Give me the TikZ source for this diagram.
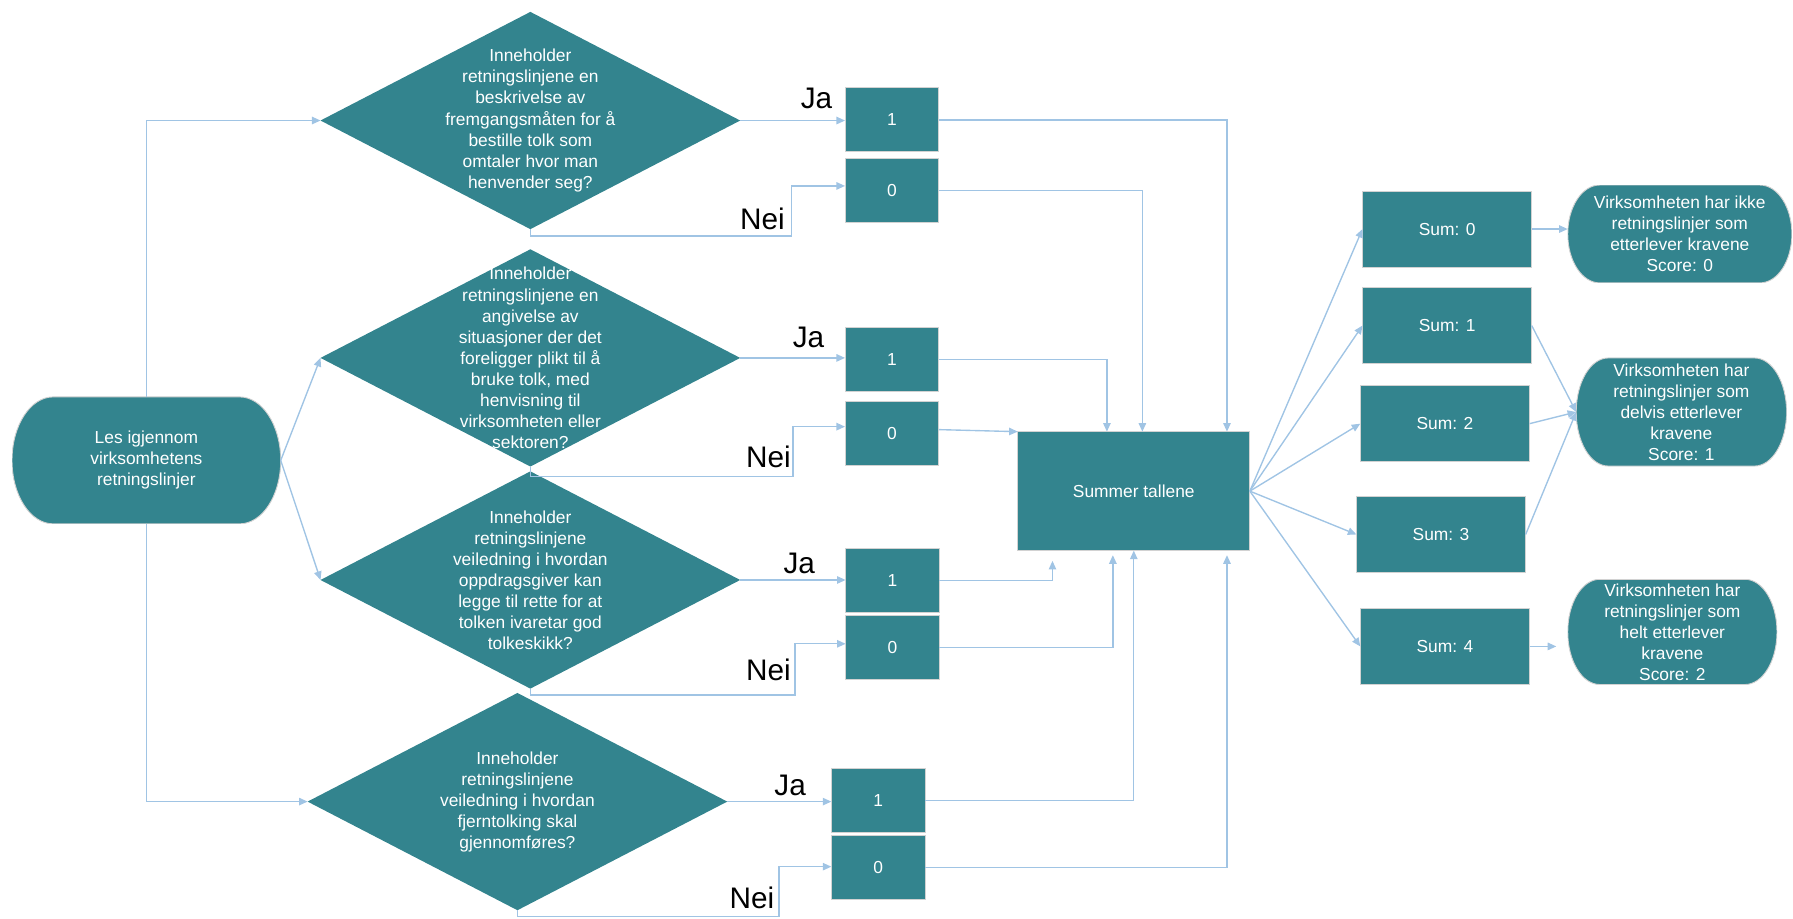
\documentclass[tikz,border=0pt]{standalone}
\usepackage{fontspec}
\setmainfont{Liberation Sans}
\usepackage{tikz}
\usetikzlibrary{
    arrows.meta,
    shapes.geometric,
    positioning,
    calc
}
\definecolor{tealbox}{RGB}{51,132,142}
\definecolor{linkblue}{RGB}{160,196,228}
\newcommand{\boxfont}{\fontsize{15.2}{18.4}\selectfont}
\newcommand{\pbb}{path picture bounding box}
\tikzstyle{decision} = [
    diamond,
    fill=tealbox,
    inner sep=0pt,
    outer sep=0pt,
    minimum width=367pt,
    minimum height=190pt
]
\tikzstyle{qtext} = [
    align=center,
    text=white,
    font=\boxfont,
    inner sep=0pt
]
\tikzstyle{valbox} = [
    rectangle,
    draw=gray!35,
    line width=0.8pt,
    fill=tealbox,
    text=white,
    font=\boxfont,
    minimum width=82pt,
    minimum height=56pt,
    outer sep=0pt
]
\tikzstyle{sumbox} = [
    valbox,
    minimum width=148pt,
    minimum height=66.5pt
]
% rectangle with half-ellipse ends, #1 = width of the ends
\tikzset{terminal/.style={
    rectangle,
    inner sep=0pt,
    outer sep=0pt,
    text=white,
    font=\boxfont,
    align=center,
    path picture={
        \filldraw[fill=tealbox, draw=gray!35, line width=0.8pt]
            ([xshift=#1]\pbb.north west) -- ([xshift=-#1]\pbb.north east)
            .. controls ([xshift=-0.4477*#1]\pbb.north east) and ($(\pbb.east)!0.5523!(\pbb.north east)$) .. (\pbb.east)
            .. controls ($(\pbb.east)!0.5523!(\pbb.south east)$) and ([xshift=-0.4477*#1]\pbb.south east) .. ([xshift=-#1]\pbb.south east)
            -- ([xshift=#1]\pbb.south west)
            .. controls ([xshift=0.4477*#1]\pbb.south west) and ($(\pbb.west)!0.5523!(\pbb.south west)$) .. (\pbb.west)
            .. controls ($(\pbb.west)!0.5523!(\pbb.north west)$) and ([xshift=0.4477*#1]\pbb.north west) .. ([xshift=#1]\pbb.north west)
            -- cycle;
    }
}}
\tikzstyle{answer} = [
    font=\fontsize{26}{30}\selectfont,
    inner sep=0pt
]
\tikzstyle{flow} = [
    -{Triangle[length=7.5pt,width=6.5pt]},
    line width=1.2pt,
    draw=linkblue
]

\begin{document}
\begin{tikzpicture}[x=1pt, y=-1pt]
    \useasboundingbox (0,0) rectangle (1568,803);

    % Start
    \node[terminal=36pt, minimum width=235pt, minimum height=111pt] (start) at (128,402.6) {Les igjennom\\virksomhetens\\retningslinjer};

    % Questions
    \node[decision] (q1) at (463.8,105.4) {};
    \node[qtext] (q1t) at (q1) {Inneholder\\retningslinjene en\\beskrivelse av\\fremgangsmåten for å\\bestille tolk som\\omtaler hvor man\\henvender seg?};
    \node[decision] (q2) at (463.8,313) {};
    \node[qtext] (q2t) at (q2) {Inneholder\\retningslinjene en\\angivelse av\\situasjoner der det\\foreligger plikt til å\\bruke tolk, med\\henvisning til\\virksomheten eller\\sektoren?};
    \node[decision] (q3) at (463.8,507.2) {};
    \node[qtext] (q3t) at (q3) {Inneholder\\retningslinjene\\veiledning i hvordan\\oppdragsgiver kan\\legge til rette for at\\tolken ivaretar god\\tolkeskikk?};
    \node[decision] (q4) at (452.5,701) {};
    \node[qtext] (q4t) at (q4) {Inneholder\\retningslinjene\\veiledning i hvordan\\fjerntolking skal\\gjennomføres?};

    % Points
    \node[valbox] (y1) at (780,104.8) {1};
    \node[valbox, below=5.8pt of y1] (n1) {0};
    \node[valbox] (y2) at (780,314.5) {1};
    \node[valbox, below=8.2pt of y2] (n2) {0};
    \node[valbox] (y3) at (780.5,507.4) {1};
    \node[valbox, below=2.6pt of y3] (n3) {0};
    \node[valbox] (y4) at (768,700) {1};
    \node[valbox, below=2.9pt of y4] (n4) {0};

    % Ja / Nei
    \node[answer] (ja1) at (714,86) {Ja};
    \node[answer] (nei1) at (666.7,191) {Nei};
    \node[answer] (ja2) at (707,295) {Ja};
    \node[answer] (nei2) at (672,399.4) {Nei};
    \node[answer] (ja3) at (699,492.6) {Ja};
    \node[answer] (nei3) at (672,585.9) {Nei};
    \node[answer] (ja4) at (691,686.5) {Ja};
    \node[answer] (nei4) at (657.6,785.6) {Nei};

    % Sum
    \node[valbox, minimum width=203pt, minimum height=104pt] (sum) at (991.5,429.5) {Summer tallene};
    \node[sumbox] (s0) at (1265.5,200.3) {Sum: 0};
    \node[sumbox] (s1) at (1265.5,284.7) {Sum: 1};
    \node[sumbox] (s2) at (1263.6,370.5) {Sum: 2};
    \node[sumbox] (s3) at (1260.2,467.4) {Sum: 3};
    \node[sumbox] (s4) at (1263.6,565.3) {Sum: 4};

    % Results
    \node[terminal=28pt, minimum width=196pt, minimum height=85.6pt] (r0) at (1469,204.6) {Virksomheten har ikke\\retningslinjer som\\etterlever kravene\\Score: 0};
    \node[terminal=28pt, minimum width=184pt, minimum height=94.5pt] (r1) at (1470.4,360.3) {Virksomheten har\\retningslinjer som\\delvis etterlever\\kravene\\Score: 1};
    \node[terminal=28pt, minimum width=183pt, minimum height=92pt] (r2) at (1462.5,552.6) {Virksomheten har\\retningslinjer som\\helt etterlever\\kravene\\Score: 2};

    % Arrows
    \draw[flow] (start.north) |- (q1.west);
    \draw[flow] (start.east) -- (q2.west);
    \draw[flow] (start.east) -- (q3.west);
    \draw[flow] (start.south) |- (q4.west);

    \draw[flow] (q1.east) -- (q1.east -| y1.west);
    \draw[flow] (q1.south) |- (692,206.4) |- ([yshift=4pt]n1.west);
    \draw[flow] (q2.east) -- (q2.east -| y2.west);
    \draw[flow] (q2.south) |- (693.5,416.9) |- ([yshift=5.6pt]n2.west);
    \draw[flow] (q3.east) -- (q3.east -| y3.west);
    \draw[flow] (q3.south) |- (695.1,607.8) |- ([yshift=3pt]n3.west);
    \draw[flow] (q4.east) -- (q4.east -| y4.west);
    \draw[flow] (q4.south) |- (681.2,801.6) |- ([yshift=1pt]n4.west);

    \draw[flow] (y1.east) -| ([xshift=-20pt]sum.north east);
    \draw[flow] (n1.east) -| ([xshift=7.5pt]sum.north);
    \draw[flow] (y2.east) -| ([xshift=-23.5pt]sum.north);
    \draw[flow] ([yshift=3pt]n2.east) -- (sum.north west);
    \draw[flow] (y3.east) -| ([xshift=30.4pt,yshift=-9pt]sum.south west);
    \draw[flow] (n3.east) -| ([xshift=-18.3pt,yshift=-4pt]sum.south);
    \draw[flow] (y4.east) -| (sum.south);
    \draw[flow] (n4.east) -| ([xshift=-20pt,yshift=-4pt]sum.south east);

    \draw[flow] (sum.east) -- (s0.west);
    \draw[flow] (sum.east) -- (s1.west);
    \draw[flow] (sum.east) -- (s2.west);
    \draw[flow] (sum.east) -- (s3.west);
    \draw[flow] (sum.east) -- (s4.west);

    \draw[flow] (s0.east) -- (s0.east -| r0.west);
    \draw[flow] (s1.east) -- (r1.west);
    \draw[flow] (s2.east) -- (r1.west);
    \draw[flow] (s3.east) -- (r1.west);
    \draw[flow] (s4.east) -- ([xshift=-10pt]s4.east -| r2.west);
\end{tikzpicture}
\end{document}
